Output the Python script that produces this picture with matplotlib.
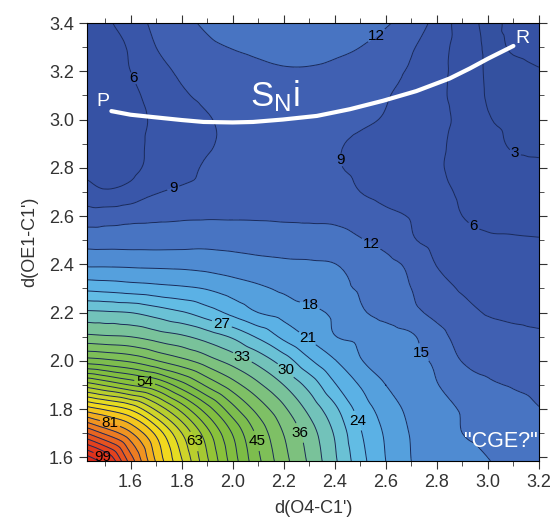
import matplotlib
matplotlib.use('Agg')
import matplotlib.pyplot as plt
import matplotlib.tri as mtri
from matplotlib.colors import LinearSegmentedColormap
from matplotlib.ticker import MultipleLocator
import numpy as np

plt.rcParams['font.family'] = ['Liberation Sans', 'DejaVu Sans']

# grid of the energy surface (kcal/mol)
d_o4 = [1.43, 1.5, 1.6, 1.7, 1.8, 1.9, 2.0, 2.1, 2.2, 2.3, 2.4, 2.5, 2.6, 2.7, 2.8, 2.9, 3.0, 3.1, 3.2]
d_oe1 = [1.585, 1.7, 1.8, 1.9, 2.0, 2.1, 2.2, 2.3, 2.4, 2.5, 2.6, 2.7, 2.8, 2.9, 3.0, 3.1, 3.2, 3.3, 3.4]
energy = [
    [105, 100.3, 88.7, 77.7, 69.3, 60.5, 52.6, 45.7, 40.1, 35.5, 30.5, 25.2, 21.0, 18.0, 17.0, 16.1, 15.1, 14.2, 13.5],
    [90, 86.5, 81.5, 74.3, 66.1, 58.1, 50.8, 44.2, 38.9, 34.5, 29.7, 24.3, 20.6, 17.8, 16.4, 15.0, 14.3, 13.7, 13.2],
    [76.5, 74.6, 71.6, 65.5, 59.0, 52.4, 46.1, 40.9, 36.6, 32.2, 27.7, 22.8, 19.6, 17.3, 15.9, 14.8, 14.0, 13.0, 12.1],
    [61.5, 59.6, 56.9, 54.3, 49.3, 44.4, 40.3, 36.6, 33.0, 29.0, 24.3, 20.8, 18.0, 16.6, 15.1, 13.8, 12.4, 11.8, 11.3],
    [46.5, 45.8, 44.5, 42.2, 39.9, 37.4, 34.8, 32.0, 28.6, 24.5, 21.2, 18.2, 17.1, 15.9, 14.5, 11.9, 11.3, 10.8, 10.4],
    [36.75, 36.4, 36.0, 34.7, 33.5, 31.7, 29.6, 26.6, 23.3, 20.6, 18.1, 17.3, 16.4, 15.4, 13.0, 11.0, 10.4, 9.9, 9.5],
    [30.6, 30.4, 30.0, 28.7, 27.3, 25.4, 23.2, 21.0, 19.9, 18.8, 17.5, 15.4, 14.1, 12.7, 11.3, 10.0, 8.8, 8.3, 8.0],
    [23.3, 23.0, 22.5, 22.0, 21.5, 20.8, 19.6, 18.5, 17.5, 16.5, 15.6, 14.7, 13.4, 12.0, 10.2, 8.7, 8.1, 7.6, 7.4],
    [17.5, 17.5, 17.4, 17.3, 17.2, 16.9, 16.4, 15.9, 15.5, 15.3, 15.05, 14.0, 12.8, 11.4, 8.9, 7.8, 7.3, 7.0, 6.8],
    [13.75, 13.7, 13.7, 13.7, 13.8, 14.0, 13.85, 13.6, 13.5, 13.5, 13.2, 12.2, 11.1, 9.3, 8.0, 7.0, 6.3, 6.2, 6.1],
    [10.5, 10.7, 11.1, 11.4, 11.6, 11.7, 11.7, 11.7, 11.6, 11.5, 11.4, 10.6, 9.6, 8.8, 7.5, 6.0, 5.5, 5.3, 5.2],
    [7.1, 6.3, 7.0, 8.8, 9.5, 10.0, 10.5, 10.7, 10.8, 10.7, 10.4, 9.0, 8.2, 7.5, 6.8, 5.6, 5.0, 4.3, 4.1],
    [5.3, 5.0, 5.3, 7.0, 8.0, 9.4, 10.2, 10.5, 10.5, 10.3, 9.3, 8.4, 7.7, 7.0, 6.3, 5.2, 4.2, 3.6, 3.4],
    [4.6, 4.5, 5.0, 6.8, 7.8, 8.7, 9.6, 10.0, 10.3, 10.2, 9.3, 8.6, 8.0, 7.3, 6.5, 5.1, 3.9, 2.7, 2.5],
    [4.3, 4.3, 5.0, 6.5, 7.7, 8.8, 9.6, 10.2, 10.4, 10.3, 9.9, 9.4, 8.8, 7.9, 6.8, 5.3, 3.2, 2.5, 2.3],
    [4.3, 4.4, 5.4, 7.0, 8.6, 9.6, 10.3, 10.8, 11.0, 11.0, 10.7, 10.0, 9.2, 8.0, 6.6, 5.0, 2.8, 2.5, 2.6],
    [4.5, 4.7, 6.0, 7.9, 9.5, 10.4, 11.0, 11.5, 11.8, 11.8, 11.5, 10.7, 9.6, 8.7, 6.8, 5.0, 2.7, 2.6, 2.9],
    [4.8, 5.2, 6.3, 9.0, 10.3, 11.5, 12.1, 12.5, 12.8, 12.8, 12.5, 12.0, 10.8, 9.3, 7.2, 4.8, 2.7, 3.2, 3.6],
    [5.0, 5.6, 7.3, 9.8, 11.3, 12.4, 13.2, 13.6, 13.8, 13.8, 13.5, 12.9, 12.3, 10.6, 8.1, 4.5, 2.6, 3.5, 4.0],
]

# contour label positions (level -> points on the line)
label_pos = {
    3: [(3.11, 2.87)], 6: [(1.63, 3.18), (2.94, 2.55)], 9: [(1.76, 2.74), (2.41, 2.83)],
    12: [(2.57, 3.34), (2.54, 2.48)], 15: [(2.75, 2.04)], 18: [(2.31, 2.25)],
    21: [(2.31, 2.12)], 24: [(2.46, 1.74)], 27: [(1.96, 2.16)], 30: [(2.20, 1.95)],
    33: [(2.03, 1.995)], 36: [(2.235, 1.69)], 45: [(2.10, 1.67)], 54: [(1.655, 1.91)],
    63: [(1.86, 1.67)], 81: [(1.525, 1.76)], 99: [(1.5, 1.617)],
}

# SNi path drawn on the map
path_x = [1.525, 1.60, 1.69, 1.80, 1.886, 2.0, 2.08, 2.196, 2.33, 2.46, 2.59, 2.72, 2.85, 2.93, 3.0, 3.10]
path_y = [3.035, 3.02, 3.01, 2.998, 2.99, 2.988, 2.99, 3.0, 3.015, 3.043, 3.078, 3.118, 3.17, 3.212, 3.252, 3.305]

anchors = [
    (0, '#33509f'), (6, '#3753a6'), (9, '#3d5bae'), (12, '#4468b8'), (15, '#4c80cc'),
    (18, '#5296d8'), (21, '#58aae2'), (24, '#5eb8e8'), (27, '#66c0e0'), (30, '#6ec2c8'),
    (33, '#76c2a8'), (36, '#7cc288'), (40, '#7ec068'), (45, '#7ebe52'), (50, '#7cbc44'),
    (57, '#8cc238'), (63, '#aecc30'), (69, '#d8d628'), (72, '#f0e01e'), (76, '#f4cc1e'),
    (80, '#f2aa20'), (85, '#ec8022'), (90, '#e65a20'), (96, '#e23c1e'), (108, '#dc241a'),
]
cmap = LinearSegmentedColormap.from_list('pes', [(v / 108, c) for v, c in anchors])
levels = np.arange(0, 109, 3)

X, Y = np.meshgrid(d_o4, d_oe1)
Z = np.array(energy)
tri = mtri.Triangulation(X.ravel(), Y.ravel())
interp = mtri.CubicTriInterpolator(tri, Z.ravel(), kind='geom')
refiner = mtri.UniformTriRefiner(tri)
tri_f, z_f = refiner.refine_field(Z.ravel(), triinterpolator=interp, subdiv=3)

fig = plt.figure(figsize=(5.55, 5.23), dpi=100)
ax = fig.add_axes([0.157, 0.1185, 0.814, 0.8375])

line_kw = dict(colors='#1a2a5a', linewidths=0.7)
ax.tricontourf(tri_f, z_f, levels=levels, cmap=cmap, vmin=0, vmax=108, extend='both')
plain = [lv for lv in levels if lv not in label_pos]
ax.tricontour(tri_f, z_f, levels=plain, **line_kw)
for lev, pts in label_pos.items():
    cs = ax.tricontour(tri_f, z_f, levels=[lev], **line_kw)
    txts = ax.clabel(cs, manual=pts, inline=True, inline_spacing=2, fmt='%d', fontsize=11, colors='k')
    for t in txts:
        t.set_rotation(0)

ax.plot(path_x, path_y, color='white', lw=3, solid_capstyle='round', solid_joinstyle='round')
ax.text(1.49, 3.075, 'P', color='white', fontsize=14, ha='center', va='center')
ax.text(3.137, 3.334, 'R', color='white', fontsize=14, ha='center', va='center')
ax.text(2.165, 3.095, r'$\mathregular{S_N i}$', color='white', fontsize=25, ha='center', va='center')
ax.text(3.05, 1.665, '"CGE?"', color='white', fontsize=15.5, ha='center', va='center')

ax.set_xlim(1.43, 3.2)
ax.set_ylim(1.585, 3.4)
ax.xaxis.set_major_locator(MultipleLocator(0.2))
ax.xaxis.set_minor_locator(MultipleLocator(0.1))
ax.yaxis.set_major_locator(MultipleLocator(0.2))
ax.yaxis.set_minor_locator(MultipleLocator(0.1))
ax.xaxis.set_major_formatter(plt.FormatStrFormatter('%.1f'))
ax.yaxis.set_major_formatter(plt.FormatStrFormatter('%.1f'))
ax.tick_params(which='both', direction='out', top=True, right=True, labelsize=13, colors='#333333')
ax.tick_params(which='major', length=6)
ax.tick_params(which='minor', length=3.5)
ax.set_xlabel("d(O4-C1')", fontsize=13, color='#333333', labelpad=6)
ax.set_ylabel("d(OE1-C1')", fontsize=13, color='#333333', labelpad=8)

fig.savefig('out.png', dpi=100)
